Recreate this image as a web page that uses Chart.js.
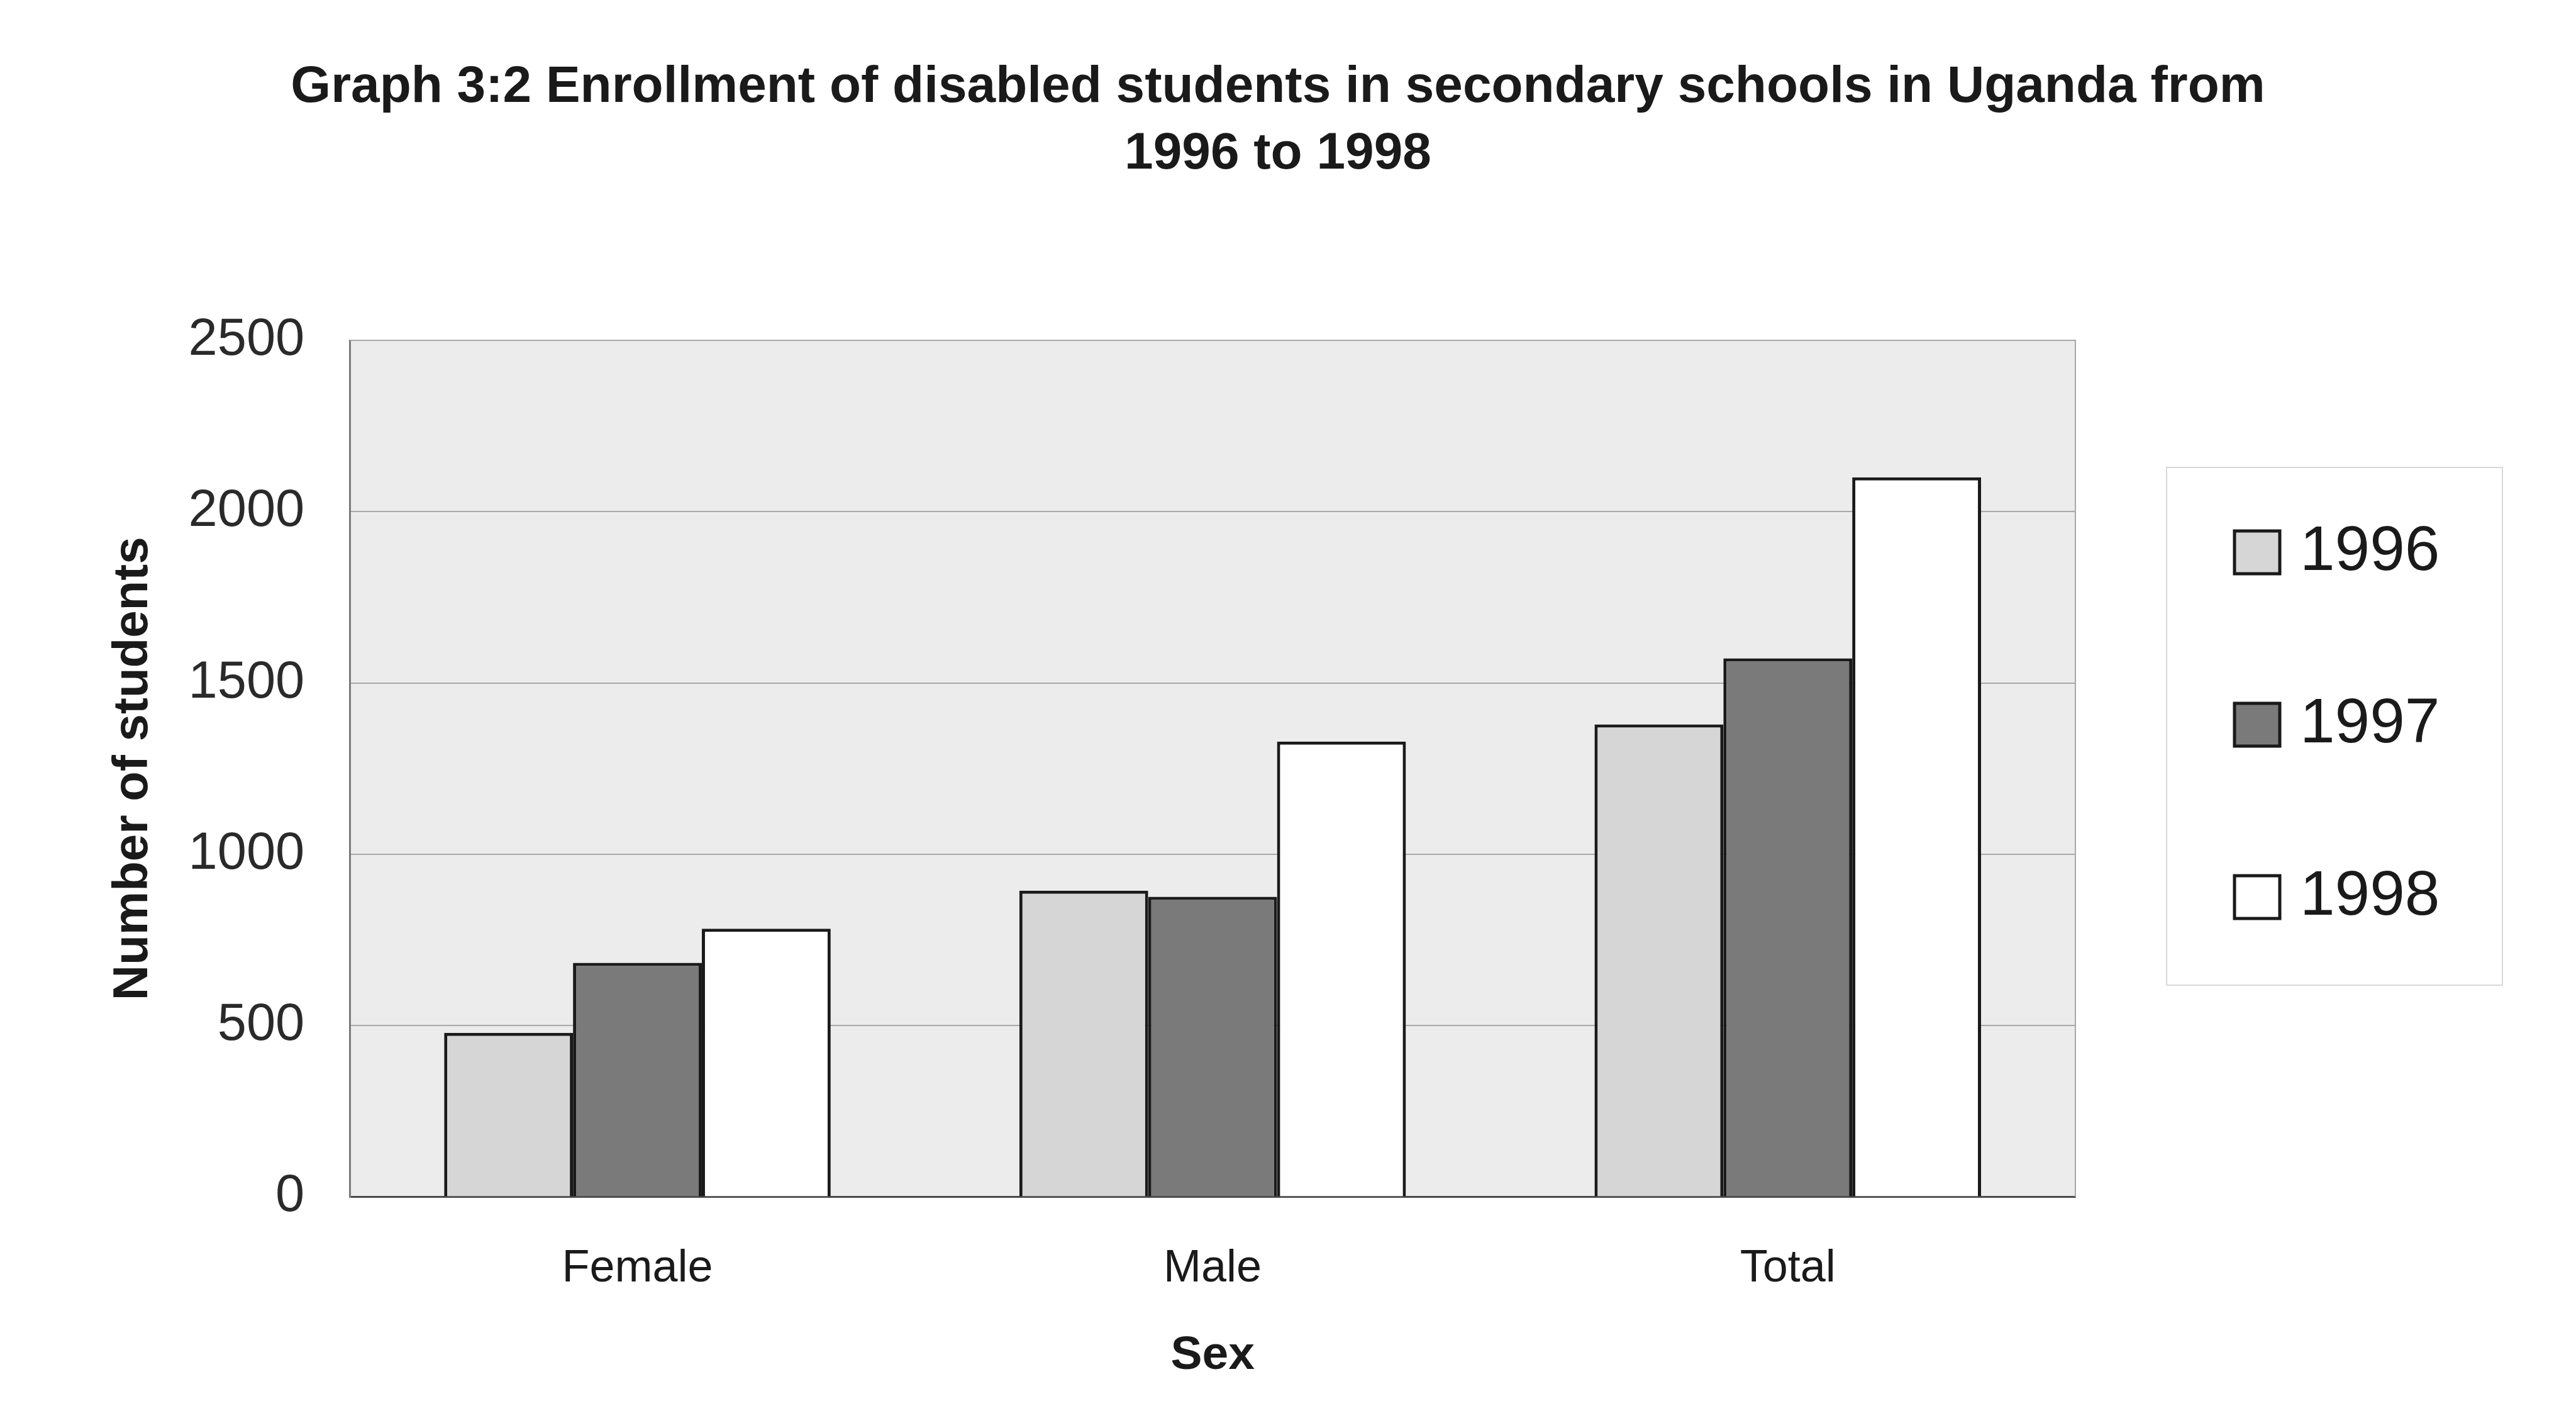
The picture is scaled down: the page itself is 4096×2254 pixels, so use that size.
<!DOCTYPE html>
<html><head><meta charset="utf-8">
<script src="https://cdn.jsdelivr.net/npm/chart.js@4.4.0/dist/chart.umd.min.js"></script>
<style>html,body{margin:0;padding:0;background:#fff;} #wrap{width:4096px;height:2254px;position:relative;}</style>
</head><body><div id="wrap"><canvas id="c"></canvas></div>
<script>
const titleLines = ['Graph 3:2 Enrollment of disabled students in secondary schools in Uganda from', '1996 to 1998'];
const categories = ['Female', 'Male', 'Total'];
const seriesNames = ['1996', '1997', '1998'];
const values1996 = [479, 894, 1379];
const values1997 = [683, 876, 1572];
const values1998 = [783, 1329, 2100];
const yTicks = [0, 500, 1000, 1500, 2000, 2500];
const xTitle = 'Sex';
const yTitle = 'Number of students';

const FONT = "'Liberation Sans', Arial, sans-serif";
const fills = ['#d6d6d6', '#7a7a7a', '#ffffff'];
const seriesValues = [values1996, values1997, values1998];

const plotBg = {
  id: 'plotBg',
  beforeDraw(chart) {
    const {ctx, chartArea: a} = chart;
    ctx.save();
    ctx.fillStyle = '#ececec';
    ctx.fillRect(a.left, a.top, a.right - a.left, a.bottom - a.top);
    ctx.restore();
  },
  afterDatasetsDraw(chart) {
    const {ctx, chartArea: a} = chart;
    ctx.save();
    ctx.strokeStyle = '#a8a8a8';
    ctx.lineWidth = 2;
    ctx.beginPath();
    ctx.moveTo(a.left, a.top);
    ctx.lineTo(a.right, a.top);
    ctx.lineTo(a.right, a.bottom);
    ctx.stroke();
    ctx.restore();
  }
};

const chartTitle = {
  id: 'chartTitle',
  afterDraw(chart) {
    const ctx = chart.ctx;
    ctx.save();
    ctx.fillStyle = '#1a1a1a';
    ctx.font = 'bold 82px ' + FONT;
    ctx.textAlign = 'center';
    ctx.textBaseline = 'alphabetic';
    titleLines.forEach((line, i) => ctx.fillText(line, 2032, 162 + i * 106));
    ctx.restore();
  }
};

const boxLegend = {
  id: 'boxLegend',
  afterDraw(chart) {
    const ctx = chart.ctx;
    ctx.save();
    const bx = 3445, by = 743, bw = 534, bh = 823;
    ctx.fillStyle = '#ffffff';
    ctx.fillRect(bx, by, bw, bh);
    ctx.strokeStyle = '#d8d8d8';
    ctx.lineWidth = 2;
    ctx.strokeRect(bx, by, bw, bh);
    const rowY = [878, 1152, 1426];
    chart.data.datasets.forEach((ds, i) => {
      const cy = rowY[i];
      ctx.fillStyle = ds.backgroundColor;
      ctx.fillRect(3553, cy - 34, 72, 68);
      ctx.strokeStyle = '#1a1a1a';
      ctx.lineWidth = 5;
      ctx.strokeRect(3553, cy - 34, 72, 68);
      ctx.fillStyle = '#1a1a1a';
      ctx.font = '100px ' + FONT;
      ctx.textBaseline = 'middle';
      ctx.textAlign = 'left';
      ctx.fillText(ds.label, 3657, cy);
    });
    ctx.restore();
  }
};

new Chart(document.getElementById('c'), {
  type: 'bar',
  data: {
    labels: categories,
    datasets: seriesNames.map((name, i) => ({
      label: name,
      data: seriesValues[i],
      backgroundColor: fills[i],
      borderColor: '#1a1a1a',
      borderWidth: 5,
      barPercentage: 1.0,
      categoryPercentage: 0.672
    }))
  },
  options: {
    responsive: true,
    maintainAspectRatio: false,
    animation: false,
    devicePixelRatio: 1,
    layout: {padding: {left: 100, right: 796, top: 541, bottom: 44}},
    plugins: {
      legend: {display: false},
      tooltip: {enabled: false},
      title: {display: false}
    },
    scales: {
      x: {
        grid: {display: false, drawTicks: false},
        border: {display: true, color: '#4a4a4a', width: 3},
        ticks: {color: '#1a1a1a', font: {family: FONT, size: 72}, padding: 71},
        title: {display: true, text: xTitle, color: '#1a1a1a',
          font: {family: FONT, size: 75, weight: 'bold', lineHeight: 1.2},
          padding: {top: -21, bottom: 10}}
      },
      y: {
        min: 0, max: 2500,
        afterBuildTicks: s => { s.ticks = yTicks.map(v => ({value: v})); },
        grid: {color: '#a9a9a9', lineWidth: 2, drawTicks: false},
        border: {display: true, color: '#7a7a7a', width: 3},
        ticks: {color: '#2a2a2a', font: {family: FONT, size: 83}, padding: 72,
          callback: v => String(v)},
        title: {display: true, text: yTitle, color: '#1a1a1a',
          font: {family: FONT, size: 78, weight: 'bold', lineHeight: 1.2},
          padding: {top: 66, bottom: -32}}
      }
    }
  },
  plugins: [plotBg, chartTitle, boxLegend]
});
</script>
</body></html>
